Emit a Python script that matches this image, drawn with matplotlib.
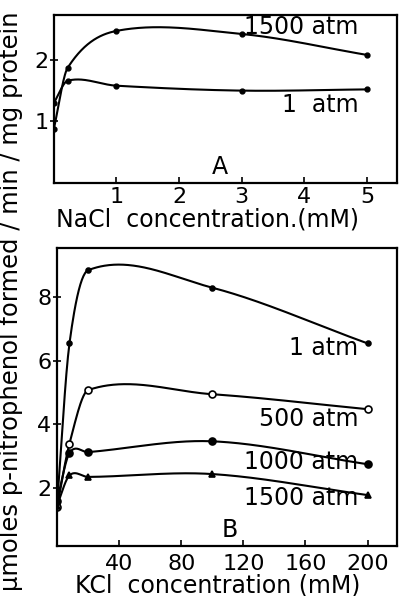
import numpy as np
import matplotlib
matplotlib.use("Agg")
import matplotlib.pyplot as plt

# panel A - NaCl
nacl_1atm_x = [0, 0.22, 1, 3, 5]
nacl_1atm_y = [1.3, 1.66, 1.58, 1.5, 1.52]
nacl_1500_x = [0, 0.22, 1, 3, 5]
nacl_1500_y = [0.88, 1.87, 2.47, 2.42, 2.08]

# panel B - KCl
kcl_x = [0, 8, 20, 100, 200]
kcl_1atm = [1.5, 6.55, 8.85, 8.3, 6.55]
kcl_500 = [1.4, 3.4, 5.08, 4.95, 4.48]
kcl_1000 = [1.6, 3.1, 3.13, 3.47, 2.75]
kcl_1500 = [1.45, 2.4, 2.35, 2.44, 1.78]

labels_b = ["1 atm", "500 atm", "1000 atm", "1500 atm"]


def smooth(x, y, n=400):
    """catmull-rom style hermite curve through the points"""
    t = np.asarray(x, float)
    y = np.asarray(y, float)
    k = len(t)
    m = np.zeros(k)
    m[0] = (y[1] - y[0]) / (t[1] - t[0])
    m[-1] = (y[-1] - y[-2]) / (t[-1] - t[-2])
    for i in range(1, k - 1):
        m[i] = (y[i + 1] - y[i - 1]) / (t[i + 1] - t[i - 1])
    tt = np.linspace(t[0], t[-1], n)
    out = np.empty(n)
    for j, v in enumerate(tt):
        i = min(np.searchsorted(t, v, side="right") - 1, k - 2)
        h = t[i + 1] - t[i]
        s = (v - t[i]) / h
        out[j] = ((2 * s**3 - 3 * s**2 + 1) * y[i] + (s**3 - 2 * s**2 + s) * h * m[i]
                  + (-2 * s**3 + 3 * s**2) * y[i + 1] + (s**3 - s**2) * h * m[i + 1])
    return tt, out


plt.rcParams["font.family"] = "DejaVu Sans"
fig = plt.figure(figsize=(3.99, 5.96), dpi=100)

axA = fig.add_axes([0.135, 0.693, 0.86, 0.282])
axB = fig.add_axes([0.143, 0.084, 0.852, 0.5])

for ax in (axA, axB):
    for s in ax.spines.values():
        s.set_linewidth(1.6)
    ax.tick_params(axis="y", direction="inout", length=6, width=1.2, labelsize=16, pad=1)
    ax.tick_params(axis="x", direction="in", length=4, width=1.2, labelsize=16)
axA.tick_params(axis="x", pad=3)
axB.tick_params(axis="x", pad=6)

# --- A
for xs, ys in ((nacl_1atm_x, nacl_1atm_y), (nacl_1500_x, nacl_1500_y)):
    cx, cy = smooth(xs, ys)
    axA.plot(cx, cy, color="black", lw=1.5)
    axA.plot(xs, ys, "o", color="black", ms=3.5)
axA.set_xlim(0, 5.48)
axA.set_ylim(0, 2.73)
axA.set_xticks([1, 2, 3, 4, 5])
axA.set_yticks([1, 2])
axA.text(4.86, 2.53, "1500 atm", fontsize=17, ha="right", va="center")
axA.text(4.86, 1.27, "1  atm", fontsize=17, ha="right", va="center")
axA.text(2.65, 0.26, "A", fontsize=17, ha="center", va="center")

# --- B
markers = [("o", "black", 3.5), ("o", "white", 5), ("o", "black", 5), ("^", "black", 4)]
for ys, (mk, fc, ms) in zip([kcl_1atm, kcl_500, kcl_1000, kcl_1500], markers):
    cx, cy = smooth(kcl_x, ys)
    axB.plot(cx, cy, color="black", lw=1.5)
    axB.plot(kcl_x, ys, mk, mfc=fc, mec="black", mew=1.2, ms=ms)
axB.set_xlim(0, 219)
axB.set_ylim(0.18, 9.55)
axB.set_xticks([40, 80, 120, 160, 200])
axB.set_yticks([2, 4, 6, 8])
for lab, yy in zip(labels_b, [6.4, 4.17, 2.82, 1.69]):
    axB.text(194, yy, lab, fontsize=17, ha="right", va="center")
axB.text(111, 0.68, "B", fontsize=17, ha="center", va="center")

fig.text(208 / 399, 1 - 220 / 596, "NaCl  concentration.(mM)", fontsize=17,
         ha="center", va="center")
fig.text(218 / 399, 1 - 585 / 596, "KCl  concentration (mM)", fontsize=17,
         ha="center", va="center")
fig.text(0.028, 0.495, "µmoles p-nitrophenol formed / min / mg protein",
         rotation=90, fontsize=17.5, ha="center", va="center")

fig.savefig("out.png", dpi=100)
